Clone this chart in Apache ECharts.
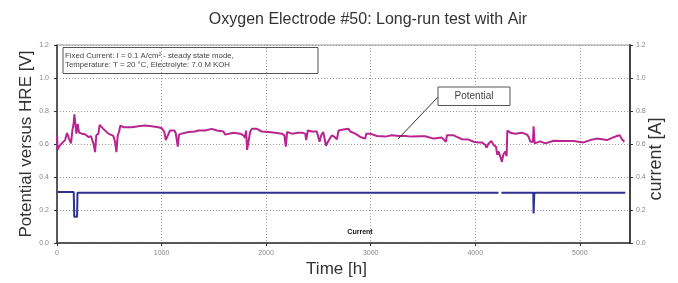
<!DOCTYPE html>
<html>
<head>
<meta charset="utf-8">
<script src="https://cdn.jsdelivr.net/npm/echarts@6/dist/echarts.min.js"></script>
<style>
    html, body { margin: 0; padding: 0; background: #fff; }
    #chart { width: 678px; height: 283px; }
</style>
</head>
<body>
<div id="chart"></div>
<script>
// 电位 (Potential) - time [h] / value [V]
var potentialT = [0, 6, 19, 45, 77, 96, 115, 134, 147, 160, 166, 179, 185, 198, 211, 236, 268, 300, 325, 348, 364, 376, 396, 408, 443, 491, 539, 555, 568, 581, 593, 606, 635, 715, 778, 842, 906, 970, 1002, 1027, 1040, 1059, 1081, 1123, 1136, 1145, 1155, 1167, 1193, 1257, 1320, 1352, 1416, 1480, 1528, 1592, 1608, 1623, 1687, 1751, 1783, 1799, 1808, 1818, 1837, 1847, 1863, 1911, 1958, 2022, 2086, 2150, 2175, 2188, 2201, 2245, 2309, 2342, 2374, 2383, 2399, 2437, 2485, 2501, 2511, 2527, 2546, 2559, 2572, 2591, 2610, 2629, 2654, 2677, 2693, 2741, 2788, 2804, 2852, 2900, 2948, 2957, 2996, 3060, 3139, 3203, 3267, 3331, 3395, 3475, 3522, 3602, 3681, 3720, 3729, 3793, 3825, 3873, 3936, 3984, 4032, 4064, 4096, 4109, 4128, 4153, 4176, 4198, 4211, 4224, 4243, 4255, 4268, 4287, 4300, 4307, 4335, 4383, 4447, 4495, 4511, 4527, 4552, 4558, 4564, 4568, 4622, 4670, 4749, 4845, 4941, 4988, 5036, 5100, 5164, 5260, 5308, 5355, 5381, 5403, 5426];
var potentialV = [0.655, 0.565, 0.584, 0.604, 0.624, 0.667, 0.633, 0.604, 0.682, 0.73, 0.78, 0.771, 0.663, 0.722, 0.669, 0.663, 0.659, 0.643, 0.647, 0.604, 0.551, 0.653, 0.663, 0.716, 0.692, 0.663, 0.649, 0.614, 0.551, 0.653, 0.673, 0.712, 0.702, 0.702, 0.708, 0.712, 0.708, 0.702, 0.696, 0.673, 0.624, 0.633, 0.682, 0.682, 0.665, 0.653, 0.584, 0.657, 0.663, 0.673, 0.676, 0.682, 0.682, 0.692, 0.682, 0.676, 0.657, 0.663, 0.669, 0.663, 0.653, 0.637, 0.682, 0.565, 0.575, 0.673, 0.692, 0.692, 0.676, 0.673, 0.669, 0.663, 0.653, 0.584, 0.673, 0.663, 0.669, 0.669, 0.663, 0.624, 0.682, 0.676, 0.676, 0.673, 0.614, 0.653, 0.673, 0.633, 0.59, 0.614, 0.618, 0.653, 0.643, 0.629, 0.682, 0.688, 0.692, 0.676, 0.663, 0.643, 0.633, 0.663, 0.663, 0.649, 0.645, 0.653, 0.649, 0.649, 0.645, 0.647, 0.647, 0.633, 0.639, 0.614, 0.653, 0.653, 0.643, 0.629, 0.627, 0.614, 0.61, 0.61, 0.594, 0.578, 0.604, 0.618, 0.594, 0.584, 0.535, 0.555, 0.516, 0.492, 0.535, 0.555, 0.526, 0.682, 0.669, 0.663, 0.669, 0.657, 0.643, 0.614, 0.614, 0.708, 0.708, 0.604, 0.616, 0.604, 0.62, 0.618, 0.618, 0.614, 0.61, 0.624, 0.633, 0.624, 0.637, 0.649, 0.653, 0.629, 0.614];

// 电流 (Current) - time [h] / value [A], null = 断开
var currentT = [0, 160, 165, 192, 196, 1140, 1145, 1150, 1620, 1624, 1628, 3375, 3378, 3381, 4222, 4236, 4250, 4455, 4458, 4461, 4555, 4558, 4562, 4565, 5435];
var currentV = [0.31, 0.31, 0.16, 0.16, 0.305, 0.305, 0.315, 0.305, 0.305, 0.312, 0.305, 0.305, 0.313, 0.305, 0.305, null, 0.305, 0.305, 0.312, 0.305, 0.305, 0.18, 0.18, 0.305, 0.305];

var xTicks = [0, 1000, 2000, 3000, 4000, 5000];
var yTicks = ['0.0', '0.2', '0.4', '0.6', '0.8', '1.0', '1.2'];

function pairs(ts, vs) {
    var out = [];
    for (var i = 0; i < ts.length; i++) {
        out.push([ts[i], vs[i] === null ? '-' : vs[i]]);
    }
    return out;
}

var font = 'Liberation Sans';
var chart = echarts.init(document.getElementById('chart'));
var option = {
    backgroundColor: '#fff',
    animation: false,
    textStyle: { fontFamily: font },
    grid: {
        left: 57, right: 48, top: 45, bottom: 33,
        show: true, borderColor: '#999', borderWidth: 1
    },
    xAxis: {
        type: 'value',
        min: 0, max: 5480, interval: 1000,
        name: 'Time [h]',
        nameLocation: 'middle',
        nameGap: 15,
        nameTextStyle: { fontSize: 17, color: '#333', padding: [0, 14, 0, 0] },
        axisLine: { lineStyle: { color: '#333', width: 1.5 } },
        axisTick: { length: 3, lineStyle: { color: '#333' } },
        axisLabel: {
            fontSize: 7, color: '#888', margin: 6,
            showMaxLabel: false,
            formatter: function (v) { return xTicks.indexOf(v) >= 0 ? v : ''; }
        },
        splitLine: { lineStyle: { color: '#999', type: [1, 2] } }
    },
    yAxis: [{
        type: 'value',
        min: 0, max: 1.2, interval: 0.2,
        name: 'Potential versus HRE [V]',
        nameLocation: 'middle',
        nameRotate: 90,
        nameGap: 22,
        nameMoveOverlap: false,
        nameTextStyle: { fontSize: 17, color: '#333' },
        axisLine: { show: true, lineStyle: { color: '#333', width: 1.5 } },
        axisTick: { show: true, length: 3, lineStyle: { color: '#333' } },
        axisLabel: {
            fontSize: 7, color: '#888', margin: 8,
            formatter: function (v) { return yTicks[Math.round(v / 0.2)]; }
        },
        splitLine: { lineStyle: { color: '#999', type: [1, 2] } }
    }, {
        type: 'value',
        position: 'right',
        min: 0, max: 1.2, interval: 0.2,
        name: 'current [A]',
        nameLocation: 'middle',
        nameRotate: 90,
        nameGap: 17,
        nameMoveOverlap: false,
        nameTextStyle: { fontSize: 18, color: '#333', padding: [0, 30, 0, 0] },
        axisLine: { show: true, lineStyle: { color: '#444', width: 2 } },
        axisTick: { show: true, length: 3, lineStyle: { color: '#333' } },
        axisLabel: {
            fontSize: 7, color: '#888', margin: 6,
            formatter: function (v) { return yTicks[Math.round(v / 0.2)]; }
        },
        splitLine: { show: false }
    }],
    series: [{
        name: 'Potential',
        type: 'line',
        data: pairs(potentialT, potentialV),
        showSymbol: false,
        symbol: 'none',
        lineStyle: { color: '#b8258f', width: 2 },
        z: 3
    }, {
        name: 'Current',
        type: 'line',
        yAxisIndex: 1,
        data: pairs(currentT, currentV),
        connectNulls: false,
        showSymbol: false,
        symbol: 'none',
        lineStyle: { color: '#2e3192', width: 2 },
        z: 2
    }],
    graphic: [
        {
            type: 'text', x: 368, y: 20,
            style: {
                text: 'Oxygen Electrode #50: Long-run test with Air',
                fontSize: 16, fontFamily: font, fill: '#333',
                textAlign: 'center', textVerticalAlign: 'middle'
            }
        },
        {
            type: 'rect',
            shape: { x: 63, y: 47.5, width: 255, height: 26 },
            style: { fill: '#fff', stroke: '#555', lineWidth: 1 }
        },
        {
            type: 'text', x: 65, y: 51,
            style: {
                text: 'Fixed Current: I = 0.1 A/cm² - steady state mode,\nTemperature: T = 20 °C, Electrolyte: 7.0 M KOH',
                fontSize: 7.8, lineHeight: 9, fontFamily: font, fill: '#444'
            }
        },
        {
            type: 'line',
            shape: { x1: 398, y1: 139, x2: 438, y2: 97 },
            style: { stroke: '#333', lineWidth: 1 },
            z: 10
        },
        {
            type: 'rect',
            shape: { x: 438, y: 87, width: 72, height: 18.5 },
            style: { fill: '#fff', stroke: '#555', lineWidth: 1 },
            z: 10
        },
        {
            type: 'text', x: 474, y: 96,
            style: {
                text: 'Potential', fontSize: 10, fontFamily: font, fill: '#444',
                textAlign: 'center', textVerticalAlign: 'middle'
            },
            z: 11
        },
        {
            type: 'text', x: 360, y: 232,
            style: {
                text: 'Current', fontSize: 7, fontWeight: 'bold', fontFamily: font, fill: '#111',
                textAlign: 'center', textVerticalAlign: 'middle'
            },
            z: 11
        }
    ]
};
chart.setOption(option);
</script>
</body>
</html>
